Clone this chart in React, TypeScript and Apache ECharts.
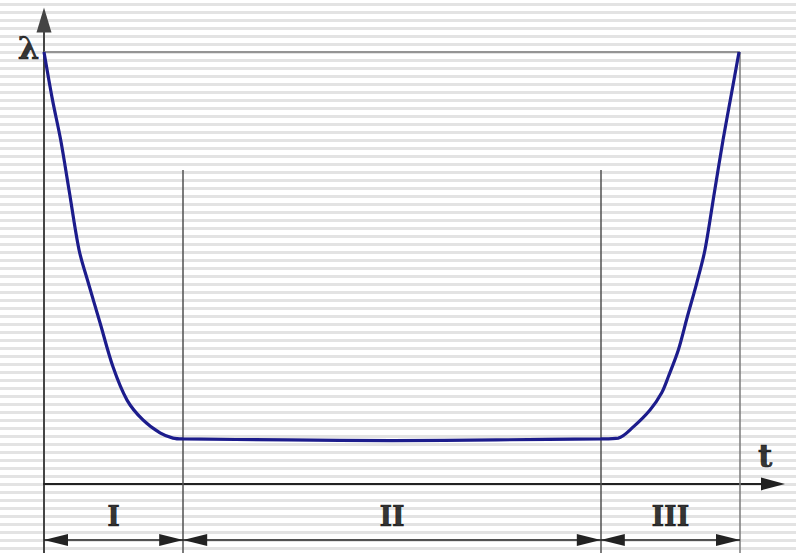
import React, { useEffect, useRef } from "react";
import * as echarts from "echarts";

// Failure-rate (bathtub) curve: t vs λ
const curveT = [0, 1.22, 2.4, 3.59, 5.03, 6.37, 8.05, 9.91, 11.93, 14.22, 16.67, 18.53, 20, 35, 50, 65, 80, 82.51, 84.67, 87.07, 88.75, 89.7, 91.14, 92.43, 93.78, 94.97, 96.26, 97.56, 98.71, 99.86];
const curveL = [100, 88.9, 79.6, 68.1, 54.2, 46.5, 37.3, 27.1, 19.4, 14.8, 11.8, 10.6, 10.4, 10.2, 10.0, 10.2, 10.4, 10.6, 13.2, 17.1, 21.1, 24.8, 31.0, 38.7, 46.5, 54.2, 66.9, 79.6, 89.8, 100];

// Period boundaries on t axis
const bounds = [0, 20, 80, 100];
const periodNames = ["I", "II", "III"];
const lambdaMax = 100;
const dividerTop = 72.7;
const axisBottom = -16;
const spanLevel = -13;
const labelLevel = -7.6;

export default function App() {
  const ref = useRef<HTMLDivElement>(null);
  useEffect(() => {
    if (!ref.current) return;
    const chart = echarts.init(ref.current, undefined, { renderer: "svg" });
    const curve = curveT.map((t, i) => [t, curveL[i]]);

    const grey = { color: "#7a7a7a", width: 1.5, type: "solid" };
    const dark = { color: "#505050", width: 1.5, type: "solid" };
    const dividerLines: any[] = [
      [{ coord: [bounds[0], lambdaMax], lineStyle: grey }, { coord: [bounds[3], lambdaMax] }],
      [{ coord: [bounds[1], dividerTop], lineStyle: dark }, { coord: [bounds[1], axisBottom] }],
      [{ coord: [bounds[2], dividerTop], lineStyle: dark }, { coord: [bounds[2], axisBottom] }],
      [{ coord: [bounds[3], lambdaMax], lineStyle: grey }, { coord: [bounds[3], axisBottom] }],
    ];

    const arrowEnd = { symbol: "triangle", symbolSize: [12, 24], symbolOffset: [0, 12] };
    const spanLines = periodNames.map((_, i) => [
      { coord: [bounds[i], spanLevel], ...arrowEnd },
      { coord: [bounds[i + 1], spanLevel], ...arrowEnd },
    ]);

    const periodLabels = periodNames.map((n, i) => [(bounds[i] + bounds[i + 1]) / 2, labelLevel, n]);

    const textLabel = (size: number) => ({
      show: true,
      position: "inside",
      formatter: (p: any) => p.value[2],
      fontFamily: "DejaVu Serif",
      fontWeight: "bold",
      fontSize: size,
      color: "#000",
      textBorderWidth: 0.6,
      textBorderColor: "#000",
    });

    chart.setOption({
      animation: false,
      grid: { left: 44, right: 23, top: 20, bottom: 0, containLabel: false },
      xAxis: {
        type: "value",
        min: 0,
        max: 104.74,
        axisLine: {
          show: true,
          onZero: true,
          symbol: ["none", "triangle"],
          symbolSize: [13, 24],
          lineStyle: { color: "#222", width: 2 },
        },
        axisTick: { show: false },
        axisLabel: { show: false },
        splitLine: { show: false },
      },
      yAxis: {
        type: "value",
        min: axisBottom,
        max: 107.4,
        axisLine: {
          show: true,
          onZero: true,
          symbol: ["none", "triangle"],
          symbolSize: [15, 25],
          lineStyle: { color: "#444", width: 2 },
        },
        axisTick: { show: false },
        axisLabel: { show: false },
        splitLine: { show: false },
      },
      series: [
        {
          name: "dividers",
          type: "line",
          data: [],
          silent: true,
          markLine: {
            silent: true,
            symbol: ["none", "none"],
            label: { show: false },
            lineStyle: { type: "solid" },
            emphasis: { disabled: true },
            data: dividerLines,
          },
        },
        {
          name: "spans",
          type: "line",
          data: [],
          silent: true,
          markLine: {
            silent: true,
            symbol: ["triangle", "triangle"],
            label: { show: false },
            lineStyle: { color: "#222", width: 1.5, type: "solid" },
            itemStyle: { color: "#222" },
            emphasis: { disabled: true },
            data: spanLines,
          },
        },
        {
          name: "λ",
          type: "line",
          data: curve,
          smooth: 0.3,
          symbol: "none",
          lineStyle: { color: "#1c1c8c", width: 3.2 },
          z: 5,
        },
        {
          name: "labels",
          type: "scatter",
          clip: false,
          symbolSize: 0,
          silent: true,
          itemStyle: { color: "#000" },
          data: periodLabels,
          label: textLabel(27),
        },
        {
          name: "axisNames",
          type: "scatter",
          clip: false,
          symbolSize: 0,
          silent: true,
          itemStyle: { color: "#000" },
          data: [
            [-2.2, 101, "λ"],
            [103.6, 6.5, "t"],
          ],
          label: textLabel(31),
        },
      ],
    });
    return () => chart.dispose();
  }, []);

  return (
    <div
      ref={ref}
      style={{
        position: "fixed",
        left: 0,
        top: 0,
        width: 796,
        height: 553,
        background:
          "repeating-linear-gradient(to bottom, #ffffff 0px, #ffffff 3px, #e3e3e3 3px, #e3e3e3 6px, #ffffff 6px, #ffffff 8px)",
      }}
    />
  );
}
